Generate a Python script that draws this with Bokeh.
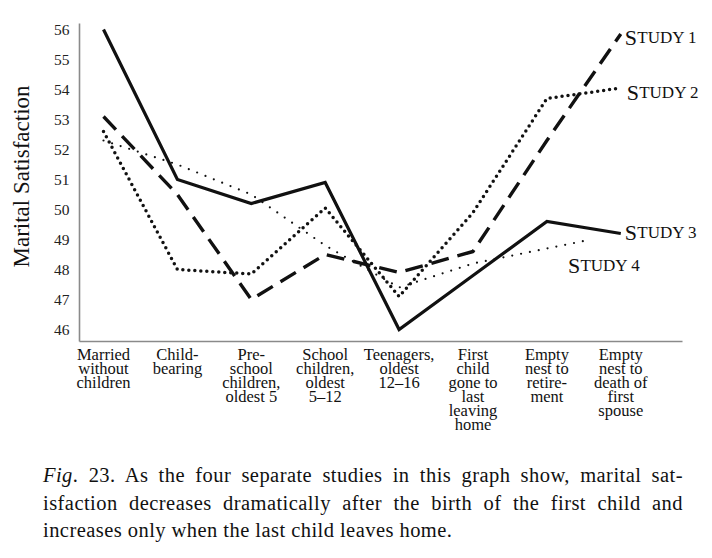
from bokeh.plotting import figure
from bokeh.models import FixedTicker, Label, Range1d, Div
from bokeh.layouts import column
from bokeh.embed import file_html
from bokeh.resources import INLINE

# ---- data ----
stages = [
    "Married\nwithout\nchildren",
    "Child-\nbearing",
    "Pre-\nschool\nchildren,\noldest 5",
    "School\nchildren,\noldest\n5–12",
    "Teenagers,\noldest\n12–16",
    "First\nchild\ngone to\nlast\nleaving\nhome",
    "Empty\nnest to\nretire-\nment",
    "Empty\nnest to\ndeath of\nfirst\nspouse",
]
stage_pos = [0, 1, 2, 3, 4, 5, 6, 7]
study1 = [53.1, 50.5, 47.0, 48.5, 47.9, 48.6, 52.3, 55.85]
study2 = [52.6, 48.0, 47.85, 50.05, 47.1, 49.9, 53.7, 54.05]
study3 = [56.0, 51.0, 50.2, 50.9, 46.0, 47.8, 49.6, 49.2]
study4_pos = [0, 1, 2, 3, 4, 5, 6, 6.6]
study4 = [52.3, 51.5, 50.5, 48.8, 47.4, 48.2, 48.7, 49.0]
y_ticks = [46, 47, 48, 49, 50, 51, 52, 53, 54, 55, 56]
series_names = ["1", "2", "3", "4"]
caption_lines = [
    "<i>Fig</i>. 23. As the four separate studies in this graph show, marital sat-",
    "isfaction decreases dramatically after the birth of the first child and",
    "increases only when the last child leaves home.",
]

SERIF = "Liberation Serif"
INK = "#111111"

p = figure(width=712, height=440, output_backend="svg", toolbar_location=None,
           x_range=Range1d(-0.3248, 8.241), y_range=Range1d(45.6, 56.6),
           min_border_left=79, min_border_right=0, min_border_top=11,
           min_border_bottom=99)
p.outline_line_color = None
p.xgrid.visible = False
p.ygrid.visible = False
p.background_fill_color = "white"

# lines
p.line(stage_pos, study3, line_color=INK, line_width=3.2, line_join="miter")
p.line(stage_pos, study1, line_color=INK, line_width=3.4, line_dash="18 9")
p.line(stage_pos, study2, line_color=INK, line_width=3.5, line_dash="0 6",
       line_cap="round")
p.line(study4_pos, study4, line_color=INK, line_width=2.2, line_dash="0 9",
       line_cap="round")

# axes
xa = p.xaxis[0]
xa.bounds = (-0.3248, 7.835)
xa.ticker = FixedTicker(ticks=stage_pos)
xa.major_label_overrides = {i: s for i, s in zip(stage_pos, stages)}
xa.major_label_text_font = SERIF
xa.major_label_text_font_size = "16.5px"
xa.major_label_text_line_height = 0.74
xa.major_label_text_color = INK
xa.major_label_standoff = 3
xa.major_tick_out = 0
xa.major_tick_in = 0
xa.major_tick_line_color = None
xa.minor_tick_line_color = None
xa.axis_line_color = "#8a8a8a"
xa.axis_line_width = 1.6

ya = p.yaxis[0]
ya.bounds = (45.6, 56.2)
ya.ticker = FixedTicker(ticks=y_ticks)
ya.major_label_text_font = SERIF
ya.major_label_text_font_size = "15.5px"
ya.major_label_text_color = "#222222"
ya.major_label_standoff = 10
ya.major_tick_out = 0
ya.major_tick_in = 0
ya.major_tick_line_color = None
ya.minor_tick_line_color = None
ya.axis_line_color = "#8a8a8a"
ya.axis_line_width = 1.6
ya.axis_label = "Marital Satisfaction"
ya.axis_label_text_font = SERIF
ya.axis_label_text_font_size = "23px"
ya.axis_label_text_font_style = "normal"
ya.axis_label_text_color = INK
ya.axis_label_standoff = 17

# study labels (small caps imitation)
label_spots = [(7.054, 55.73), (7.08, 53.9), (7.054, 49.23), (6.284, 48.13)]
for name, (lx, ly) in zip(series_names, label_spots):
    p.add_layout(Label(x=lx, y=ly, text="S", text_font=SERIF,
                       text_font_size="22px", text_color=INK,
                       text_baseline="alphabetic"))
    p.add_layout(Label(x=lx, y=ly, x_offset=12.5, text="TUDY " + name,
                       text_font=SERIF, text_font_size="17px",
                       text_color=INK, text_baseline="alphabetic"))

# caption
rows = []
for i, line in enumerate(caption_lines):
    last = "justify" if i < len(caption_lines) - 1 else "left"
    rows.append(
        f'<div style="width:640px;text-align:justify;text-align-last:{last};'
        f'white-space:nowrap;">{line}</div>'
    )
caption = Div(text="".join(rows), width=660, height=83, margin=(22, 0, 0, 43),
              styles={"font-family": SERIF, "font-size": "20.5px",
                      "letter-spacing": "0.45px",
                      "line-height": "27.5px", "color": INK})

page = column(p, caption)
open("out.html", "w").write(file_html(page, INLINE))
